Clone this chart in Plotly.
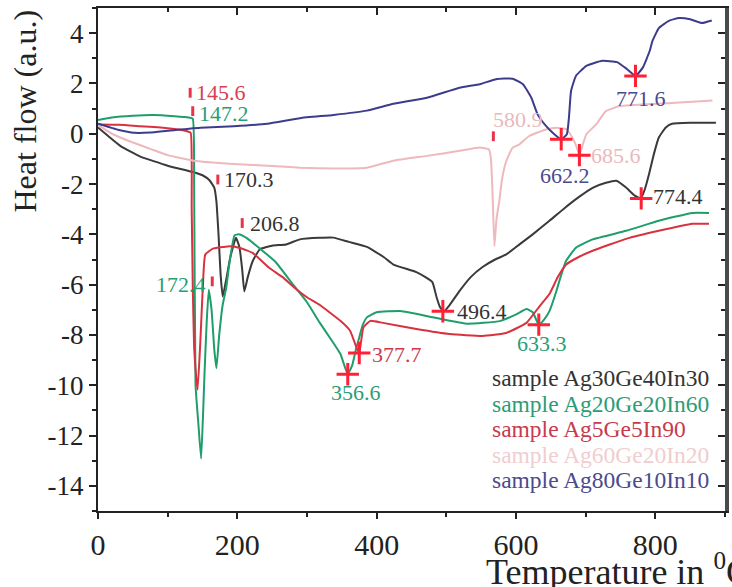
import plotly.graph_objects as go

# ---------------- data ----------------
black_T = [0, 15, 33, 60, 100, 136, 150, 160, 167, 170, 173, 176, 179, 184, 190, 198, 203, 207, 210,
           215, 222, 232, 250, 270, 290, 318, 338, 360, 386, 410, 424, 457, 470, 480, 486, 491, 496.4,
           505, 519, 535, 552, 570, 586, 605, 624, 648, 670, 691, 710, 729, 744, 758, 770, 779, 785,
           791, 798, 805, 815, 824, 850, 887]
black_y = [0.25, -0.1, -0.5, -0.9, -1.27, -1.52, -1.65, -1.85, -2.15, -2.7, -4.0, -5.6, -6.47, -5.8,
           -4.9, -4.14, -4.5, -5.4, -6.27, -5.7, -5.07, -4.6, -4.45, -4.4, -4.2, -4.14, -4.13, -4.3,
           -4.5, -4.9, -5.2, -5.5, -5.7, -5.9, -6.5, -6.9, -7.06, -6.8, -6.25, -5.7, -5.3, -5.0, -4.8,
           -4.4, -4.0, -3.46, -2.95, -2.5, -2.15, -1.95, -1.87, -2.14, -2.45, -2.57, -2.2, -1.6, -0.8,
           -0.15, 0.25, 0.4, 0.44, 0.44]

green_T = [0, 20, 50, 80, 110, 130, 136, 138, 140, 144, 148, 151, 153, 156, 159, 163, 167, 170, 174,
           179, 184, 189, 196, 202, 213, 237, 255, 280, 300, 318, 335, 348, 358.5, 365, 370, 374, 380,
           386, 400, 434, 481, 529, 577, 601, 615, 624, 632.7, 640, 648, 658, 665, 672, 686, 710, 758,
           805, 853, 877]
green_y = [0.55, 0.65, 0.72, 0.75, 0.7, 0.65, 0.6, -2.0, -10.0, -11.5, -12.92, -11.0, -9.45, -7.5,
           -6.2, -7.0, -8.6, -9.32, -8.0, -6.8, -6.14, -5.07, -4.04, -4.0, -4.14, -4.67, -5.1, -6.0,
           -6.7, -7.5, -8.2, -8.76, -9.56, -9.2, -8.6, -8.2, -7.6, -7.3, -7.1, -7.05, -7.3, -7.55,
           -7.45, -7.17, -6.97, -7.1, -7.59, -7.4, -7.05, -6.25, -5.6, -5.05, -4.53, -4.2, -3.86,
           -3.46, -3.15, -3.15]

red_T = [0, 30, 60, 100, 128, 133, 134.5, 136, 138, 141, 143, 147, 150.4, 154, 165, 180, 189, 205,
         222, 246, 265, 280, 300, 318, 348, 362, 371, 375, 381, 391, 409, 457, 505, 552, 586, 615,
         634, 648, 660, 672, 690, 710, 758, 805, 853, 877]
red_y = [0.37, 0.36, 0.3, 0.22, 0.1, 0.04, -3.0, -6.0, -8.5, -9.7, -10.18, -8.2, -6.14, -4.8, -4.57,
         -4.5, -4.47, -4.55, -4.74, -5.34, -5.7, -6.07, -6.5, -6.8, -7.44, -7.84, -8.5, -8.72, -7.7,
         -7.44, -7.52, -7.76, -7.96, -8.04, -7.92, -7.52, -6.85, -6.37, -5.7, -5.2, -4.9, -4.65,
         -4.18, -3.86, -3.58, -3.58]

pink_T = [0, 20, 50, 75, 100, 137, 195, 250, 290, 340, 386, 424, 472, 519, 548, 561, 564, 566.5,
          569, 572, 576, 580, 586, 595, 605, 619, 643, 658, 673, 681, 686, 691, 696, 701, 715, 729,
          749, 787, 835, 882]
pink_y = [0.35, 0.0, -0.35, -0.6, -0.85, -1.07, -1.2, -1.28, -1.35, -1.38, -1.35, -1.07, -0.88,
          -0.68, -0.55, -0.62, -1.0, -2.5, -4.47, -3.4, -2.68, -1.8, -1.09, -0.56, -0.42, -0.09,
          0.17, 0.24, 0.17, -0.16, -0.45, -0.85, -0.42, -0.02, 0.37, 0.9, 1.1, 1.17, 1.24, 1.32]

blue_T = [0, 30, 52, 75, 100, 147, 195, 243, 290, 338, 386, 424, 472, 519, 548, 571.5, 595, 610, 622,
          631, 643, 655, 664.9, 673, 676, 679, 686, 701, 724, 745, 758, 771.5, 782, 792, 796, 805,
          820, 834, 850, 867, 881]
blue_y = [0.4, 0.15, 0.04, 0.05, 0.12, 0.24, 0.3, 0.4, 0.62, 0.75, 0.92, 1.19, 1.43, 1.83, 1.97, 2.17,
          2.19, 1.97, 1.43, 0.77, 0.31, -0.02, -0.22, -0.02, 0.64, 1.7, 2.3, 2.7, 2.9, 2.85, 2.6,
          2.3, 2.63, 3.3, 3.7, 4.2, 4.5, 4.6, 4.55, 4.4, 4.5]

series_names = ["sample Ag30Ge40In30", "sample Ag20Ge20In60", "sample Ag5Ge5In90",
                "sample Ag60Ge20In20", "sample Ag80Ge10In10"]

# small vertical onset marks
onset_T = [132.3, 136.0, 172.0, 207.0, 164.0, 567.5]
onset_y = [1.63, 0.90, -1.82, -3.55, -5.87, -0.10]
onset_labels = ["145.6", "147.2", "170.3", "206.8", "172.4", "580.9"]

# "+" peak marks
peak_T = [358.5, 375.0, 495.0, 632.7, 664.9, 691.0, 771.5, 779.7]
peak_y = [-9.56, -8.72, -7.06, -7.59, -0.22, -0.85, 2.30, -2.57]
peak_labels = ["356.6", "377.7", "496.4", "633.3", "662.2", "685.6", "771.6", "774.4"]

x_ticks = [0, 200, 400, 600, 800]
y_ticks = [-14, -12, -10, -8, -6, -4, -2, 0, 2, 4]

# ---------------- styles ----------------
FONT = "Liberation Serif"
C_BLACK = "#3a3a3a"
C_GREEN = "#1f9e6c"
C_RED = "#d8323f"
C_PINK = "#eeb9bd"
C_BLUE = "#3c3c8c"
line_colors = [C_BLACK, C_GREEN, C_RED, C_PINK, C_BLUE]
legend_colors = ["#333333", "#2a9d76", "#c83a4c", "#f0cdd0", "#4a4a8e"]

onset_style = [  # (text color, xanchor, xshift, yshift)
    ("#d8404f", "left", 4, 0),
    ("#2a9d76", "left", 4, -2),
    ("#333333", "left", 4, 0),
    ("#333333", "left", 6, 0),
    ("#2a9d76", "right", -4, -3),
    ("#eab9bd", "left", -2, 17),
]
peak_style = [
    ("#2a9d76", "center", 8, -18),
    ("#c83a4c", "left", 11, -1),
    ("#333333", "left", 12, 0),
    ("#2a9d76", "center", 3, -19),
    ("#4a4a8e", "center", 4, -36),
    ("#eab9bd", "left", 10, 0),
    ("#4a4a8e", "center", 6, -23),
    ("#333333", "left", 10, 2),
]

fig = go.Figure()
curves = [(black_T, black_y), (green_T, green_y), (red_T, red_y), (pink_T, pink_y), (blue_T, blue_y)]
for (tx, ty), name, col in zip(curves, series_names, line_colors):
    fig.add_trace(go.Scatter(x=tx, y=ty, mode="lines", name=name,
                             line=dict(color=col, width=2, shape="spline", smoothing=0.4),
                             showlegend=False))

fig.add_trace(go.Scatter(x=onset_T, y=onset_y, mode="markers", showlegend=False,
                         marker=dict(symbol="line-ns", size=7, line=dict(color="#e8344a", width=3))))
fig.add_trace(go.Scatter(x=peak_T, y=peak_y, mode="markers", showlegend=False,
                         marker=dict(symbol="cross-thin", size=16, line=dict(color="#ff2035", width=3))))
# dummy trace to activate mirror axes
fig.add_trace(go.Scatter(x=[None], y=[None], xaxis="x2", yaxis="y2", showlegend=False, hoverinfo="skip"))

annotations = []
for t, v, lab, (col, xa, dx, dy) in zip(onset_T, onset_y, onset_labels, onset_style):
    annotations.append(dict(x=t, y=v, xref="x", yref="y", text=lab, showarrow=False, xanchor=xa,
                            yanchor="middle", xshift=dx, yshift=dy, font=dict(family=FONT, size=22, color=col)))
for t, v, lab, (col, xa, dx, dy) in zip(peak_T, peak_y, peak_labels, peak_style):
    annotations.append(dict(x=t, y=v, xref="x", yref="y", text=lab, showarrow=False, xanchor=xa,
                            yanchor="middle", xshift=dx, yshift=dy, font=dict(family=FONT, size=22, color=col)))

# plot area in pixels: x 98..725, y 8..511
PX0, PX1, PY0, PY1 = 98, 725, 8, 511
def px(p):
    return (p - PX0) / (PX1 - PX0)
def py(p):
    return (PY1 - p) / (PY1 - PY0)

for i, (name, col) in enumerate(zip(series_names, legend_colors)):
    annotations.append(dict(x=px(490), y=py(378 + 25.5 * i), xref="paper", yref="paper", text=name,
                            showarrow=False, xanchor="left", yanchor="middle",
                            font=dict(family=FONT, size=23.5, color=col)))

annotations.append(dict(x=px(24), y=py(8), xref="paper", yref="paper", text="Heat flow (a.u.)",
                        textangle=-90, showarrow=False, xanchor="center", yanchor="top",
                        font=dict(family=FONT, size=32, color="#222222")))
annotations.append(dict(x=px(484), y=py(569), xref="paper", yref="paper",
                        text="Temperature in <sup>0</sup>C",
                        showarrow=False, xanchor="left",
                        yanchor="middle", font=dict(family=FONT, size=36, color="#222222")))

common = dict(showgrid=False, zeroline=False, showline=True, automargin=False,
              tickwidth=2, tickcolor="#222222")

fig.update_layout(
    width=732, height=587,
    margin=dict(l=PX0, r=732 - PX1, t=PY0, b=587 - PY1, pad=0, autoexpand=False),
    paper_bgcolor="white", plot_bgcolor="white",
    font=dict(family=FONT, color="#222222"),
    annotations=annotations,
    xaxis=dict(range=[0, 900], tickvals=x_ticks, ticktext=[str(v) for v in x_ticks],
               linecolor="#222222", linewidth=2, ticks="outside", ticklen=6,
               tickfont=dict(family=FONT, size=30, color="#222222"),
               minor=dict(dtick=100, ticks="outside", ticklen=4, tickwidth=2, tickcolor="#222222"),
               **common),
    yaxis=dict(range=[-15, 5], tickvals=y_ticks, ticktext=[str(v) for v in y_ticks],
               linecolor="#222222", linewidth=2, ticks="outside", ticklen=7,
               tickfont=dict(family=FONT, size=27, color="#222222"),
               minor=dict(dtick=1, ticks="outside", ticklen=4, tickwidth=2, tickcolor="#222222"),
               **common),
    xaxis2=dict(range=[0, 900], overlaying="x", side="top", tickvals=x_ticks, showticklabels=False,
                linecolor="#222222", linewidth=2, ticks="inside", ticklen=7,
                minor=dict(dtick=100, ticks="inside", ticklen=4, tickwidth=2, tickcolor="#222222"),
                **common),
    yaxis2=dict(range=[-15, 5], overlaying="y", side="right", tickvals=y_ticks, showticklabels=False,
                linecolor="#4a4a4a", linewidth=4, ticks="inside", ticklen=7,
                minor=dict(dtick=1, ticks="inside", ticklen=4, tickwidth=2, tickcolor="#222222"),
                **common),
)

fig.write_html("out.html", config={"displayModeBar": False},
               post_script="document.body.style.margin='0px';document.body.style.padding='0px';")
